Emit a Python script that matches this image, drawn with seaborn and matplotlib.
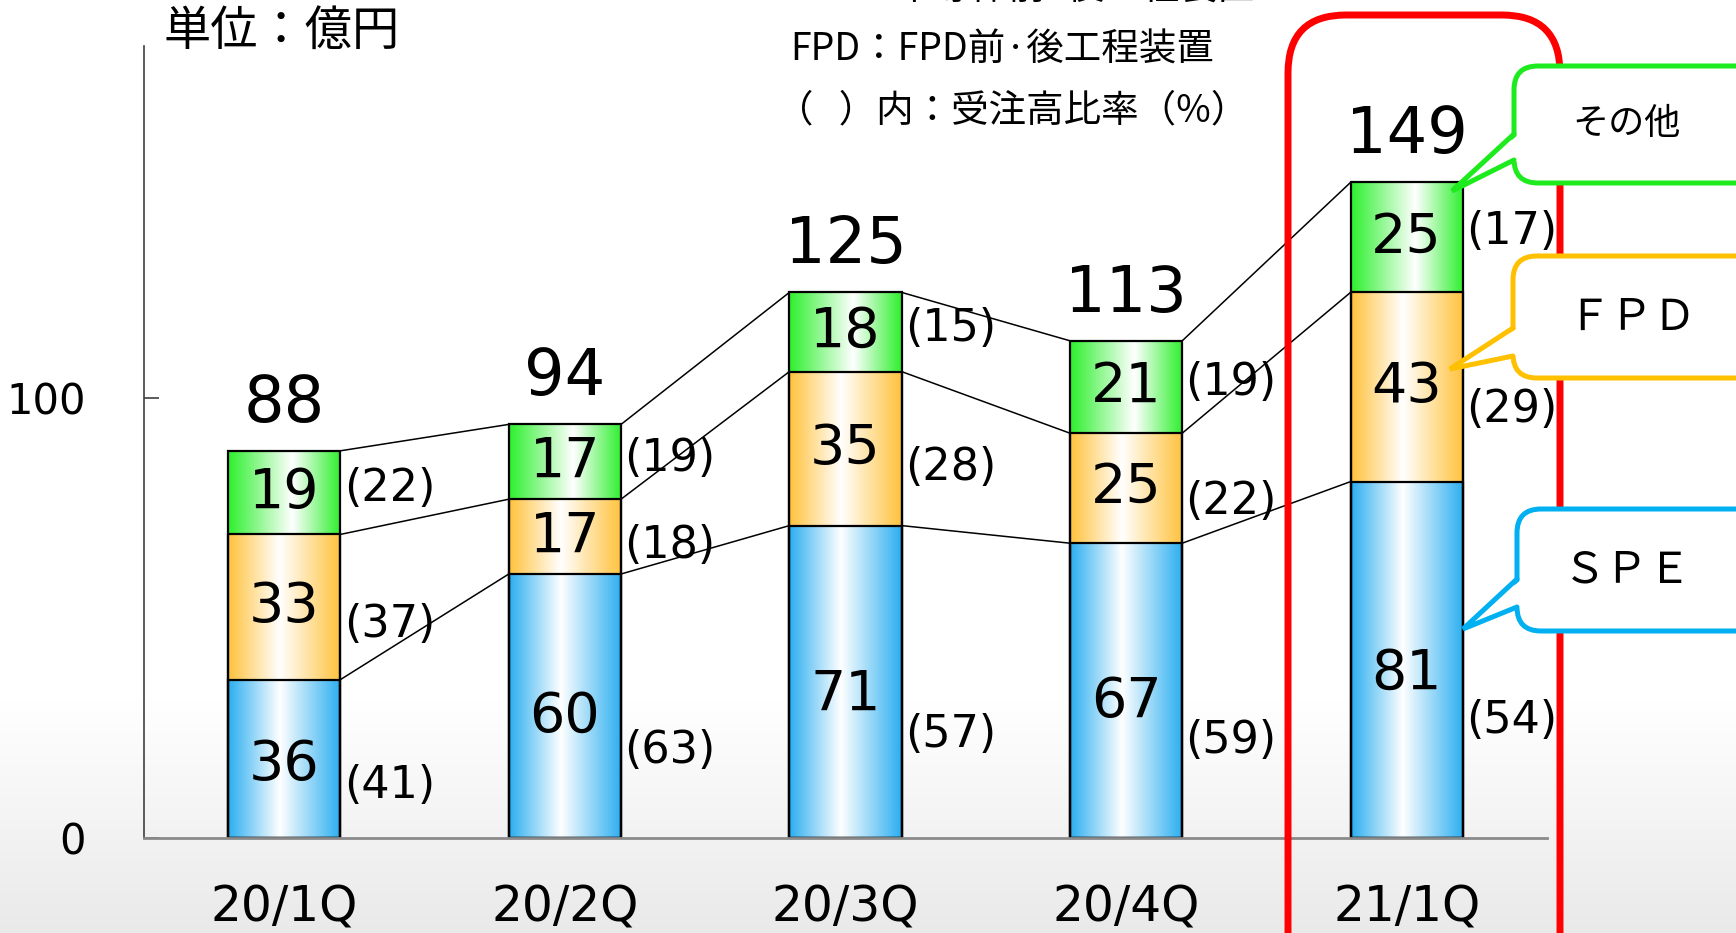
import numpy as np
import pandas as pd
import seaborn as sns
import matplotlib.pyplot as plt
from matplotlib.colors import LinearSegmentedColormap
from matplotlib.patches import FancyBboxPatch, Polygon
from matplotlib.lines import Line2D
from matplotlib.transforms import IdentityTransform

# data (億円) and share of orders (%)
quarters = ["20/1Q", "20/2Q", "20/3Q", "20/4Q", "21/1Q"]
spe = [36, 60, 71, 67, 81]
fpd = [33, 17, 35, 25, 43]
other = [19, 17, 18, 21, 25]
totals = [88, 94, 125, 113, 149]
spe_pct = [41, 63, 57, 59, 54]
fpd_pct = [37, 18, 28, 22, 29]
other_pct = [22, 19, 15, 19, 17]

note_lines = ["SPE：半導体前·後工程装置", "FPD：FPD前·後工程装置", "（   ）内：受注高比率（%）"]
callout_labels = ["その他", "ＦＰＤ", "ＳＰＥ"]

sns.set_theme(style="white")
plt.rcParams['font.family'] = ['DejaVu Sans', 'Noto Sans CJK JP']
plt.rcParams['text.color'] = 'black'
CJK = ['Noto Sans CJK JP', 'DejaVu Sans']

W, H = 1736, 933
fig = plt.figure(figsize=(W / 100, H / 100), dpi=100)

# slide-like background, white fading to light grey at the bottom
bg = fig.add_axes([0, 0, 1, 1], zorder=-5)
rows = np.ones(H)
fade = np.arange(H) > 700
rows[fade] = 1 - 0.085 * (np.arange(H)[fade] - 700) / (H - 700)
bg.imshow(np.repeat(rows[:, None, None], 3, axis=2), aspect='auto', extent=[0, 1, 0, 1])
bg.axis('off')

ax = fig.add_axes([144 / W, 95 / H, 1403 / W, 792 / H])
ax.set_facecolor('none')

df = pd.DataFrame({"quarter": quarters, "spe": spe, "fpd": fpd, "other": other})
df["mid"] = df["spe"] + df["fpd"]
df["top"] = df["mid"] + df["other"]

edge_cols = {"other": "#2DF02D", "fpd": "#FFC23C", "spe": "#2BAEF0"}
white_pos = {"other": 0.57, "fpd": 0.46, "spe": 0.46}
levels = [("top", "mid", "other"), ("mid", "spe", "fpd"), ("spe", None, "spe")]

bars = {}
for col, lower, key in levels:
    n0 = len(ax.patches)
    sns.barplot(data=df, x="quarter", y=col, order=quarters, color=edge_cols[key],
                saturation=1, width=0.4, edgecolor="black", linewidth=1.6, ax=ax)
    patches = ax.patches[n0:]
    bars[key] = patches
    cmap = LinearSegmentedColormap.from_list(
        key, [(0, edge_cols[key]), (white_pos[key], "white"), (1, edge_cols[key])])
    for i, p in enumerate(patches):
        lo = 0 if lower is None else df[lower][i]
        hi = df[col][i]
        ax.imshow(np.linspace(0, 1, 256)[None, :], cmap=cmap, aspect='auto',
                  extent=[p.get_x(), p.get_x() + p.get_width(), lo, hi],
                  interpolation='bicubic', zorder=1.5)
        p.set_facecolor('none')
        p.set_zorder(2)

# connector lines between neighbouring bars
ref = bars["spe"]
for col in ["spe", "mid", "top"]:
    for i in range(len(quarters) - 1):
        x0 = ref[i].get_x() + ref[i].get_width()
        x1 = ref[i + 1].get_x()
        ax.plot([x0, x1], [df[col][i], df[col][i + 1]], color="black", lw=1.1, zorder=1)

# value labels: (segment, lower level, share, label pos, share pos)
segs = [("spe", None, spe_pct, 0.46, 0.33), ("fpd", "spe", fpd_pct, 0.5, 0.38),
        ("other", "mid", other_pct, 0.5, 0.55)]
for key, lower, pct, vfrac, frac in segs:
    for i, p in enumerate(ref):
        lo = 0 if lower is None else df[lower][i]
        val = df[key][i]
        ax.text(i, lo + val * vfrac, str(val), ha='center', va='center', fontsize=40, zorder=4)
        ax.text(p.get_x() + p.get_width() + 0.012, lo + val * frac, f"({pct[i]})",
                ha='left', va='center', fontsize=32, zorder=4)

for i, t in enumerate(totals):
    ax.annotate(str(t), (i, df["top"][i]), xytext=(0, 21), textcoords='offset points',
                ha='center', va='baseline', fontsize=46)

ax.set_xlim(-0.5, 4.5)
ax.set_ylim(0, 180)
ax.set_yticks([0, 100])
ax.set_xlabel("")
ax.set_ylabel("")
ax.tick_params(axis='x', length=0, pad=33, labelsize=35, labelcolor='black')
ax.tick_params(axis='y', direction='in', length=11, width=1.2, pad=42, labelsize=30,
               color='#404040', labelcolor='black', left=True)
sns.despine(ax=ax)
ax.spines['left'].set_color('#404040')
ax.spines['left'].set_linewidth(1.2)
ax.spines['bottom'].set_color('#8a8a8a')
ax.spines['bottom'].set_linewidth(2)

# texts
fig.text(164 / W, 1 - 32 / H, "単位：億円", family=CJK, fontsize=34, va='center', ha='left')
for k, line in enumerate(note_lines):
    x = 776 if line.startswith("（") else 790
    fig.text(x / W, 1 - (-11 + 61 * k) / H, line, family=CJK, fontsize=27, va='center', ha='left')

# red highlight frame around latest quarter (pixel space)
fig.add_artist(FancyBboxPatch((1288, H - 1010), 272, 995, boxstyle="round,pad=0,rounding_size=58",
                              transform=IdentityTransform(), fill=False, edgecolor='#FF0000',
                              linewidth=5, zorder=6))

# callouts: (box left, top, bottom, pointer base1, base2, tip x, tip y, text x, text y)
callout_geo = [(1514, 66, 183, 134, 160, 1452, 191, 1627, 124),
               (1513, 256, 378, 328, 356, 1450, 369, 1632, 318),
               (1517, 509, 631, 579, 607, 1463, 629, 1627, 570)]
callout_cols = ["#1EEB1E", "#FFC000", "#00B0F0"]
for lab, geo, c in zip(callout_labels, callout_geo, callout_cols):
    x0, top, bot, b1, b2, tx, ty, lx, ly = geo
    fig.add_artist(FancyBboxPatch((x0, H - bot), 300, bot - top, boxstyle="round,pad=0,rounding_size=24",
                                  transform=IdentityTransform(), facecolor='white', edgecolor=c,
                                  linewidth=3.6, zorder=7))
    fig.add_artist(Polygon([(x0 + 5, H - b1), (tx, H - ty), (x0 + 5, H - b2)], closed=True,
                           transform=IdentityTransform(), facecolor='white', edgecolor='none', zorder=8))
    fig.add_artist(Line2D([x0, tx, x0], [H - b1, H - ty, H - b2], transform=IdentityTransform(),
                          color=c, lw=3.6, solid_joinstyle='miter', zorder=9))
    fig.text(lx / W, 1 - ly / H, lab, family=CJK, fontsize=26 if lab == "その他" else 31,
             ha='center', va='center', zorder=10)

fig.savefig("out.png", dpi=100)
